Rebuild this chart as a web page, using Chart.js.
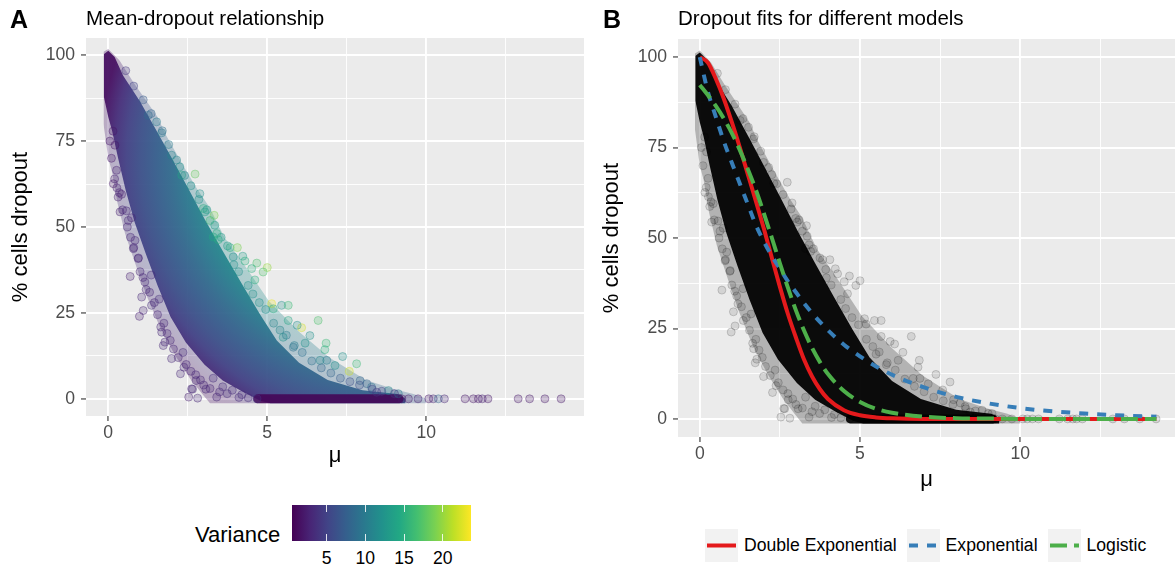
<!DOCTYPE html>
<html>
<head>
<meta charset="utf-8">
<script src="https://cdn.jsdelivr.net/npm/chart.js@4.4.1/dist/chart.umd.min.js"></script>
<style>
  body { margin: 0; width: 1175px; height: 570px; overflow: hidden; position: relative; background: #fff;
         font-family: "Liberation Sans", Arial, sans-serif; color: #000; }
  .abs { position: absolute; line-height: 1; white-space: nowrap; }
  .tag { font-weight: bold; font-size: 25px; }
  .title { font-size: 20.5px; }
  .wrap { position: absolute; top: 0; }
  #legendB { position: absolute; left: 705px; top: 529px; display: flex; align-items: center; }
  #legendB .key { width: 33px; height: 33px; background: #f2f2f2; }
  #legendB span { font-size: 17.6px; margin: 0 10px 0 6px; }
</style>
</head>
<body>
<div class="wrap" style="left:0;width:587px;height:480px"><canvas id="chartA"></canvas></div>
<div class="wrap" style="left:590px;width:585px;height:500px"><canvas id="chartB"></canvas></div>

<div class="abs tag" style="left:10px;top:7px">A</div>
<div class="abs title" style="left:86px;top:8px">Mean-dropout relationship</div>
<div class="abs tag" style="left:603px;top:7px">B</div>
<div class="abs title" style="left:678px;top:8px">Dropout fits for different models</div>

<div class="abs" style="left:195px;top:524px;font-size:22px">Variance</div>
<div id="colorbar"></div>
<div id="legendB"></div>

<script>
// axis ticks (minor ones get thin grid lines only)
const xTicks = [0, 2.5, 5, 7.5, 10, 12.5];
const yTicks = [0, 12.5, 25, 37.5, 50, 62.5, 75, 87.5, 100];

// fitted curves
const fitMu     = [0, 0.25, 0.5, 0.75, 1, 1.25, 1.5, 1.75, 2, 2.25, 2.5, 2.75, 3, 3.25, 3.5, 3.75, 4, 4.5, 5, 5.5, 6, 7, 8, 9, 10, 11, 12, 13, 14.25];
const doubleExp = [100, 98.5, 94, 88.5, 82, 75, 67.6, 60.2, 52.6, 44.5, 36.5, 29, 22.5, 16.5, 11.8, 8.2, 5.5, 2.4, 1.0, 0.4, 0.15, 0, 0, 0, 0, 0, 0, 0, 0];
const expFit    = [100, 90.5, 83.5, 76.7, 70.8, 65, 59.3, 53.6, 49, 45, 41.5, 38, 35, 32, 29.3, 26.8, 24.5, 20.5, 17.3, 14.5, 12.2, 8.7, 6.1, 4.3, 3, 2.1, 1.5, 1, 0.6];
const logistic  = [92.3, 89.5, 86.5, 83, 79, 74.3, 69, 63.3, 56.8, 50, 43, 36.3, 30, 24.5, 19.7, 15.7, 12.4, 7.7, 4.7, 2.8, 1.7, 0.6, 0.2, 0.1, 0, 0, 0, 0, 0];
const fitNames  = ['Double Exponential', 'Exponential', 'Logistic'];

// outline of the dense part of the point cloud [mu, % dropout]
const coreUpper = [[-0.14, 100.3], [0, 101.3], [0.2, 99.5], [0.47, 94], [1.0, 86.5], [1.55, 77.5], [2.0, 70], [2.5, 61.5], [3.05, 52],
                   [3.6, 43], [4.2, 33.5], [4.78, 24.5], [5.3, 17], [6.0, 10.5], [6.9, 5.5], [8.0, 2.5], [9.1, 1.4], [9.35, 0]];
const coreLower = [[-0.14, 88], [0, 82], [0.12, 78], [0.31, 70], [0.55, 60.6], [0.83, 51.4], [1.18, 42.2], [1.55, 33], [1.96, 23.8],
                   [2.44, 16.4], [3.03, 9.9], [3.6, 5.3], [4.3, 1.7], [4.8, -0.6], [5.1, -1.3], [9.35, -1.3]];
// outline of the thinner halo of overlapping points
const haloUpper = [[-0.15, 101], [0, 101.8], [0.35, 98.5], [0.8, 92], [1.25, 86], [1.55, 82], [1.8, 77], [2.35, 68], [2.8, 61], [3.2, 55.5],
                   [3.65, 47], [4.35, 38], [5.05, 28.5], [6.0, 19.5], [6.95, 12], [8.1, 5.5], [9.0, 2.8], [9.6, 1.4], [10.0, 0]];
const haloLower = [[-0.15, 80], [0, 70], [0.12, 66], [0.29, 57], [0.53, 48], [0.88, 38.5], [1.23, 29.5], [1.64, 20.5], [2.11, 12.5],
                   [2.58, 5.8], [2.95, 1.5], [3.2, -1.3], [10.0, -1.3]];
// run of genes with zero dropout
const zeroRun = [[4.7, 0], [9.15, 0]];

// single points visible around the cloud: [outliers lower-left | outliers upper-right | tail at 0 | points along the edges]
const fringeMu = [0.15, 0.21, 0.26, 0.16, 0.27, 0.42, 0.31, 0.37, 0.57, 0.63, 0.73, 0.84, 0.79, 0.94, 0.69, 1.09, 1.19, 1.05, 1.10, 0.98,
  1.36, 1.65, 1.68, 1.78, 1.73, 1.99, 2.27, 2.38, 2.62, 2.53, 2.81, 2.76, 2.65, 3.07, 3.41, 3.74, 4.11, 4.68,
  1.26, 1.52, 1.68, 1.99, 2.25, 2.31, 2.73, 2.88, 2.99, 3.04, 3.33, 3.20, 3.41, 3.30, 3.46, 3.83, 4.06, 4.23, 4.30, 3.93, 4.67, 4.51,
  5.00, 4.87, 4.61, 5.14, 5.45, 5.66, 5.19, 5.66, 6.08, 6.34, 6.60, 6.85, 6.81, 5.94, 6.19, 7.37, 7.81, 7.58, 7.13, 6.87, 6.66, 7.92,
  8.28, 8.13, 5.50, 5.82, 8.44, 8.81, 9.12,
  9.23, 9.44, 9.74, 10.08, 10.22, 10.38, 10.57, 11.22, 11.48, 11.64, 11.76, 11.94, 12.89, 13.25, 13.73, 14.24,
  0.05, 0.10, 0.20, 0.35, 0.45, 0.60, 0.70, 0.80, 0.95, 1.00, 1.15, 1.30, 1.35, 1.45, 1.55, 1.60, 1.75, 1.85, 1.95, 2.05,
  2.20, 2.35, 2.45, 2.60, 2.75, 2.90, 3.00, 3.20, 3.30, 3.50, 3.60, 3.90, 4.20, 4.40,
  0.55, 0.80, 1.10, 1.35, 1.70, 1.90, 2.15, 2.40, 2.60, 2.85, 3.10, 3.35, 3.55, 3.75, 3.95, 4.10, 4.40, 4.55, 4.75, 4.95,
  5.20, 5.40, 5.60, 5.85, 6.10, 6.40, 6.70, 7.00, 7.30, 7.60, 7.90, 8.30, 8.60, 9.00];
const fringeDropout = [77.9, 73.8, 66.5, 62.6, 61.4, 59.5, 58.7, 54.4, 54.7, 51.9, 52.7, 46.1, 43.7, 40.8, 35.6, 35.3, 31.8, 29.6, 25.7, 24.0,
  27.2, 20.9, 19.4, 16.5, 15.5, 11.7, 7.3, 9.2, 2.9, 0.5, 0.2, 5.3, 2.8, 2.8, 0.5, 1.5, 0.4, 0,
  82.5, 80.6, 77.4, 70.9, 67.5, 65.1, 65.4, 59.7, 55.4, 54.4, 53.4, 51.9, 48.1, 47.1, 46.3, 44.0, 44.0, 41.5, 40.1, 41.3, 39.5, 37.9,
  38.2, 36.9, 34.6, 27.7, 27.2, 27.2, 26.2, 22.8, 20.7, 18.4, 22.8, 16.2, 14.3, 21.4, 16.2, 12.3, 10.2, 8.0, 9.7, 11.2, 11.2, 5.3,
  3.4, 4.4, 17.9, 15.0, 1.9, 2.4, 1.5,
  0, 0, 0, 0, 0, 0, 0, 0, 0, 0, 0, 0, 0, 0, 0, 0,
  75, 70, 64, 60, 55, 50, 47, 44, 41, 37, 34, 31, 36, 28, 24.5, 29, 22, 19, 17, 14.5,
  12, 13.5, 10, 8, 7, 5.5, 4, 3, 6, 2, 3.5, 2.5, 1.2, 0.3,
  95.5, 91, 87, 83, 78, 74, 69.5, 65, 62, 58, 55, 50.5, 47, 44.5, 39, 37, 33, 30.5, 28, 26,
  22, 20, 18.5, 15.5, 13.5, 11, 9, 7.5, 6, 5, 4, 2.8, 2.2, 1.5];
const fringeVariance = [2, 2, 2.5, 2, 2.5, 2.5, 2.5, 2.5, 3, 3, 3, 3, 3, 3, 2.5, 3, 3, 3, 3, 2.5,
  3.5, 3, 3, 3, 3, 3, 3, 3, 3, 2.5, 3, 3, 3, 3, 3, 3.5, 3.5, 4,
  9, 10, 10, 11, 12, 14, 18, 12, 15, 13, 19, 16, 15, 14, 15, 15, 19, 13, 15, 12, 17, 15,
  20, 17, 15, 23, 12, 16, 15, 14, 22, 12, 17, 16, 15, 12, 12, 12, 16, 22, 12, 10, 11, 8,
  9, 8, 12, 9, 4, 11, 10,
  2, 2, 2.5, 2, 3, 8, 3, 2, 2, 2, 2.5, 2, 2, 2, 2, 2,
  2, 2, 2.5, 2.5, 3, 3, 3, 3, 3, 3, 3, 3, 3.5, 3, 3, 3.5, 3, 3, 3, 3,
  3, 3.5, 3, 3, 3, 3, 3, 3, 3.5, 3, 3.5, 3.5, 3.5, 3.5,
  4, 5, 7, 8, 9, 10, 11, 11, 12, 12, 13, 13, 13, 13, 12, 12, 12, 12, 12, 12,
  11, 11, 10, 10, 9, 9, 8, 8, 7, 6, 6, 5, 5, 4];

// colour bar
const varianceRange = [0.52, 23.66];
const varianceTicks = [5, 10, 15, 20];

Chart.defaults.font.family = '"Liberation Sans", Arial, sans-serif';

const VIRIDIS = [[68,1,84],[72,36,117],[65,68,135],[53,95,141],[42,120,142],[33,145,140],[34,168,132],[68,191,112],[122,209,81],[189,223,38],[253,231,37]];
function viridis(t, a) {
  t = Math.min(1, Math.max(0, t));
  const p = t * (VIRIDIS.length - 1);
  const i = Math.min(Math.floor(p), VIRIDIS.length - 2), f = p - i;
  const c = VIRIDIS[i].map((v, k) => Math.round(v + (VIRIDIS[i + 1][k] - v) * f));
  return `rgba(${c[0]},${c[1]},${c[2]},${a})`;
}
const varT = v => (v - varianceRange[0]) / (varianceRange[1] - varianceRange[0]);

// variance in panel A rises towards the upper right edge of the cloud,
// approximated with a radial gradient (pixel distance -> viridis position)
const gradCenter = [9, 70];
const gradStops = [[185, 0.50], [200, 0.44], [212, 0.39], [225, 0.34], [240, 0.29], [255, 0.24], [268, 0.19], [280, 0.13], [295, 0.04]];
function varianceFill(alpha) {
  return ctx => {
    const chart = ctx.chart;
    if (!chart.chartArea) return viridis(0.3, alpha);
    const cx = chart.scales.x.getPixelForValue(gradCenter[0]);
    const cy = chart.scales.y.getPixelForValue(gradCenter[1]);
    const g = chart.ctx.createRadialGradient(cx, cy, 150, cx, cy, 300);
    gradStops.forEach(([d, t]) => g.addColorStop((d - 150) / 150, viridis(t, alpha)));
    return g;
  };
}

const toXY = pts => pts.map(([x, y]) => ({x, y}));
const fringePts = fringeMu.map((m, i) => ({x: m, y: fringeDropout[i]}));

const panelBg = {
  id: 'panelBg',
  beforeDraw(chart) {
    const {ctx, chartArea: a} = chart;
    ctx.save();
    ctx.fillStyle = '#ebebeb';
    ctx.fillRect(a.left, a.top, a.right - a.left, a.bottom - a.top);
    ctx.restore();
  }
};

function gridStyle(step) {
  const major = c => c.tick && Math.abs(c.tick.value % step) < 1e-9;
  return {
    color: '#ffffff',
    lineWidth: c => major(c) ? 1.9 : 0.9,
    tickColor: c => major(c) ? '#333333' : 'rgba(0,0,0,0)',
    tickLength: 5,
    tickWidth: 1.1,
    drawTicks: true
  };
}

function makeScales(o) {
  return {
    x: {
      type: 'linear', min: o.xMin, max: o.xMax,
      afterBuildTicks: s => { s.ticks = xTicks.map(v => ({value: v})); },
      afterFit: s => { s.height = o.xAxisHeight; },
      grid: gridStyle(5),
      border: {display: false},
      ticks: {autoSkip: false, maxRotation: 0, padding: 2, color: '#4d4d4d', font: {size: 17.6},
              callback: v => v % 5 === 0 ? v : ''},
      title: {display: true, text: 'μ', color: '#000', font: {size: 22}, padding: {top: 0, bottom: o.xTitlePad}}
    },
    y: {
      type: 'linear', min: -5, max: 105,
      afterBuildTicks: s => { s.ticks = yTicks.map(v => ({value: v})); },
      afterFit: s => { s.width = o.yAxisWidth; },
      grid: gridStyle(25),
      border: {display: false},
      ticks: {autoSkip: false, padding: 6, color: '#4d4d4d', font: {size: 17.6},
              callback: v => v % 25 === 0 ? v : ''},
      title: {display: true, text: '% cells dropout', color: '#000', font: {size: 22}, padding: {top: o.yTitlePad, bottom: 0}}
    }
  };
}

function band(points, fill, color, order) {
  return {type: 'line', data: toXY(points), fill: fill, backgroundColor: color, borderColor: 'rgba(0,0,0,0)',
          borderWidth: 0, pointRadius: 0, tension: 0, order: order};
}

function baseOptions(scales, padding) {
  return {
    responsive: true, maintainAspectRatio: false, animation: false, events: [],
    layout: {autoPadding: false, padding: padding},
    plugins: {legend: {display: false}, tooltip: {enabled: false}},
    scales: scales
  };
}

// ---- panel A ----
new Chart(document.getElementById('chartA'), {
  type: 'scatter',
  data: {
    datasets: [
      band(haloUpper, false, 'rgba(0,0,0,0)', 10),
      band(haloLower, '-1', varianceFill(0.3), 10),
      band(coreUpper, false, 'rgba(0,0,0,0)', 9),
      band(coreLower, '-1', varianceFill(0.93), 9),
      {type: 'line', data: toXY(zeroRun), borderColor: 'rgba(68,1,84,0.85)', borderWidth: 9, borderCapStyle: 'round',
       pointRadius: 0, fill: false, order: 8},
      {data: fringePts, pointRadius: 4, borderWidth: 1,
       backgroundColor: fringeVariance.map(v => viridis(varT(v), 0.25)),
       borderColor: fringeVariance.map(v => viridis(varT(v), 0.4)), order: 7}
    ]
  },
  options: baseOptions(makeScales({xMin: -0.70, xMax: 14.96, xAxisHeight: 64, yAxisWidth: 86, xTitlePad: 11, yTitlePad: 8}),
                       {top: 38, right: 3, left: 0, bottom: 0}),
  plugins: [panelBg]
});

// ---- panel B ----
const fitColors = ['#e41a1c', '#377eb8', '#4daf4a'];
const fitDashes = [[], [9, 9], [17, 7]];
const fitSeries = [doubleExp, expFit, logistic];

new Chart(document.getElementById('chartB'), {
  type: 'scatter',
  data: {
    datasets: [
      band(haloUpper, false, 'rgba(0,0,0,0)', 10),
      band(haloLower, '-1', 'rgba(0,0,0,0.24)', 10),
      band(coreUpper, false, 'rgba(0,0,0,0)', 9),
      band(coreLower, '-1', 'rgba(0,0,0,0.94)', 9),
      {type: 'line', data: toXY(zeroRun), borderColor: 'rgba(0,0,0,0.9)', borderWidth: 9, borderCapStyle: 'round',
       pointRadius: 0, fill: false, order: 8},
      {data: fringePts, pointRadius: 4, borderWidth: 1, backgroundColor: 'rgba(0,0,0,0.1)',
       borderColor: 'rgba(0,0,0,0.16)', order: 7},
      ...fitSeries.map((ys, i) => ({
        type: 'line', label: fitNames[i], data: fitMu.map((m, j) => ({x: m, y: ys[j]})),
        borderColor: fitColors[i], borderWidth: 4, borderDash: fitDashes[i], borderCapStyle: 'butt',
        cubicInterpolationMode: 'monotone', pointRadius: 0, fill: false, order: 3 - i
      }))
    ]
  },
  options: baseOptions(makeScales({xMin: -0.68, xMax: 14.83, xAxisHeight: 63, yAxisWidth: 88, xTitlePad: 7, yTitlePad: 9}),
                       {top: 39, right: 0, left: 0, bottom: 0}),
  plugins: [panelBg]
});

// ---- colour bar legend (panel A) ----
const cb = document.getElementById('colorbar');
const cbLeft = 292, cbTop = 505, cbW = 179, cbH = 36;
cb.style.cssText = `position:absolute;left:${cbLeft}px;top:${cbTop}px;width:${cbW}px;height:${cbH}px;` +
  `background:linear-gradient(to right, ${VIRIDIS.map((c, i) => `rgb(${c.join(',')}) ${i * 10}%`).join(', ')});`;
varianceTicks.forEach(v => {
  const x = varT(v) * cbW;
  ['top:0', 'bottom:0'].forEach(pos => {
    const m = document.createElement('div');
    m.style.cssText = `position:absolute;${pos};left:${x - 0.5}px;width:1px;height:7px;background:rgba(255,255,255,0.85)`;
    cb.appendChild(m);
  });
  const lab = document.createElement('div');
  lab.className = 'abs';
  lab.textContent = v;
  lab.style.cssText += `left:${cbLeft + x}px;top:550px;font-size:17.6px;transform:translateX(-50%)`;
  document.body.appendChild(lab);
});

// ---- line legend (panel B) ----
const lg = document.getElementById('legendB');
fitNames.forEach((name, i) => {
  const key = document.createElement('div');
  key.className = 'key';
  key.innerHTML = `<svg width="33" height="33"><line x1="2" y1="16.5" x2="31" y2="16.5" stroke="${fitColors[i]}" ` +
    `stroke-width="4" stroke-dasharray="${fitDashes[i].join(' ') || 'none'}"/></svg>`;
  const txt = document.createElement('span');
  txt.textContent = name;
  lg.appendChild(key);
  lg.appendChild(txt);
});
</script>
</body>
</html>
